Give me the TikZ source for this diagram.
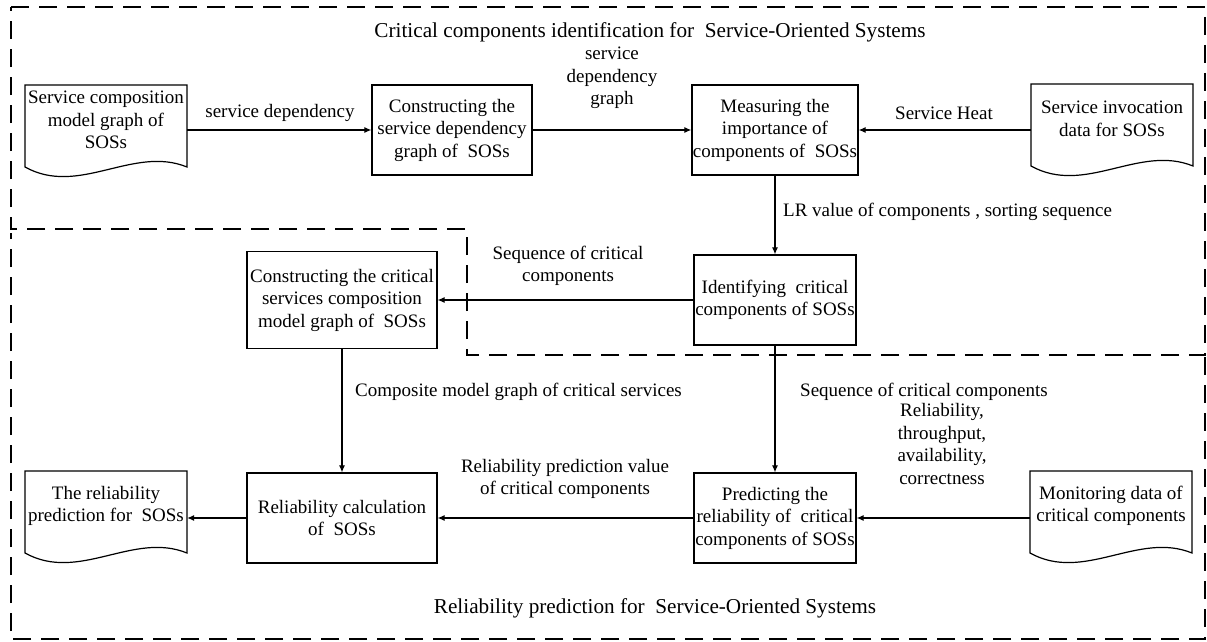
\documentclass[tikz,border=0pt]{standalone}
\usepackage{fontspec}
\setmainfont{Liberation Serif}
\usetikzlibrary{arrows.meta}

% Outline of a "document" symbol around a named text node (wavy bottom edge)
\newcommand\docframe[1]{%
  \draw[frameline] ([shift={(-81,-35)}]#1.center) -- ([shift={(81,-35)}]#1.center)
    -- ([shift={(81,47)}]#1.center)
    .. controls ([shift={(27,25)}]#1.center) and ([shift={(-27,77)}]#1.center)
    .. ([shift={(-81,47)}]#1.center) -- cycle;}

\begin{document}
\begin{tikzpicture}[x=1pt,y=-1pt,
  every node/.style={font=\fontsize{19}{22.5}\selectfont},
  title/.style={font=\fontsize{21.2}{25}\selectfont},
  frameline/.style={line width=1.2pt},
  proc/.style={draw, line width=1.2pt, align=center, minimum width=#1,
               minimum height=90pt, inner sep=1pt},
  proc/.default=162pt,
  doctext/.style={align=center, minimum width=162pt, inner xsep=0pt},
  lbl/.style={align=center, inner sep=1pt},
  arr/.style={line width=1.1pt, -{Latex[length=7pt,width=6pt]}},
  region/.style={line width=1.2pt, dash pattern=on 18pt off 10pt}]

\useasboundingbox (0,0) rectangle (1207,642);

% dashed regions
\draw[region] (11,7) -- (1205,7) -- (1205,355) -- (467,355) -- (467,229) -- (11,229) -- cycle;
\draw[region] (1205,357) -- (1205,639) -- (11,639) -- (11,233);

\node[title] (t1) at (650,32) {Critical components identification for \ Service-Oriented Systems};
\node[title] (t2) at (655,608) {Reliability prediction for \ Service-Oriented Systems};

% documents
\node[doctext] (d1) at (106,120) {Service composition\\model graph of\\SOSs};
\node[doctext] (d4) at (1112,119) {Service invocation\\data for SOSs};
\node[doctext] (d8) at (106,506) {The reliability\\prediction for \ SOSs};
\node[doctext] (d10) at (1111,506) {Monitoring data of\\critical components};
\docframe{d1}
\docframe{d4}
\docframe{d8}
\docframe{d10}

% process boxes
\node[proc=160pt] (b2) at (452,130) {Constructing the\\service dependency\\graph of \ SOSs};
\node[proc] (b3) at (775,130) {Measuring the\\importance of\\components of \ SOSs};
\node[proc] (b5) at (775,300) {Identifying \ critical\\components of SOSs};
\node[proc=190pt, minimum height=97pt] (b6) at (342,300) {Constructing the critical\\services composition\\model graph of \ SOSs};
\node[proc=190pt] (b7) at (342,518) {Reliability calculation\\of \ SOSs};
\node[proc] (b9) at (775,518) {Predicting the\\reliability of \ critical\\components of SOSs};

% connectors
\draw[arr] (d1.east |- b2) -- (b2.west);
\draw[arr] (b2) -- (b3);
\draw[arr] (d4.west |- b3) -- (b3.east);
\draw[arr] (b3) -- (b5);
\draw[arr] (b5) -- (b6);
\draw[arr] (b6) -- (b7);
\draw[arr] (b5) -- (b9);
\draw[arr] (b9) -- (b7);
\draw[arr] (b7.west) -- (d8.east |- b7);
\draw[arr] (d10.west |- b9) -- (b9.east);

% connector labels
\node[lbl] (l1) at (280,113) {service dependency};
\node[lbl] (l2) at (612,78) {service\\dependency\\graph};
\node[lbl] (l3) at (944,113) {Service Heat};
\node[lbl, anchor=west] (l4) at (782,212) {LR value of components , sorting sequence};
\node[lbl] (l5) at (568,266) {Sequence of critical\\components};
\node[lbl, anchor=west] (l6) at (354,392) {Composite model graph of critical services};
\node[lbl, anchor=west] (l7) at (799,392) {Sequence of critical components};
\node[lbl] (l8) at (565,479) {Reliability prediction value\\of critical components};
\node[lbl] (l9) at (942,444) {Reliability,\\throughput,\\availability,\\correctness};
\end{tikzpicture}
\end{document}
